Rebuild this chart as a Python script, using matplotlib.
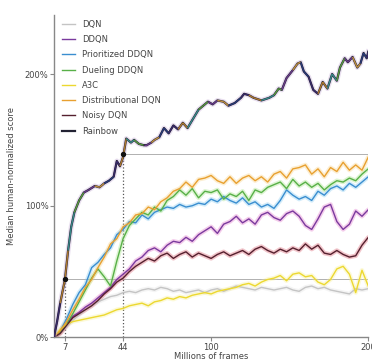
import matplotlib.pyplot as plt
from matplotlib.collections import LineCollection
import numpy as np

# frames in millions, baselines sampled every 4M
frames = list(range(0, 201, 4))

dqn = [0, 3, 8, 13, 17, 21, 24, 27, 29, 31, 32, 34, 35, 34, 36, 37, 36, 38, 37, 35,
       36, 34, 35, 36, 34, 36, 37, 35, 37, 39, 38, 37, 36, 38, 37, 36, 37, 38, 36, 35,
       38, 39, 37, 38, 36, 35, 34, 33, 37, 36, 37]
ddqn = [0, 4, 10, 16, 19, 23, 26, 30, 34, 38, 44, 48, 52, 58, 61, 66, 68, 65, 70, 73,
        72, 76, 73, 78, 81, 84, 79, 86, 88, 92, 87, 90, 86, 93, 95, 91, 89, 94, 96, 92,
        85, 82, 90, 99, 101, 88, 82, 86, 96, 92, 97]
prioritized = [0, 5, 14, 25, 34, 40, 53, 57, 63, 68, 78, 82, 88, 87, 93, 90, 95, 97, 99, 98,
               101, 99, 100, 102, 101, 105, 103, 107, 104, 102, 106, 101, 103, 99, 101, 98, 104, 112, 108, 105,
               107, 104, 111, 108, 113, 115, 112, 117, 114, 118, 122]
dueling = [0, 4, 10, 18, 27, 36, 45, 52, 46, 39, 58, 75, 85, 90, 95, 93, 99, 96, 104, 107,
           112, 108, 113, 106, 111, 110, 112, 105, 109, 107, 111, 104, 112, 110, 114, 116, 118, 113, 120, 115,
           118, 114, 117, 112, 116, 119, 118, 121, 119, 124, 128]
a3c = [0, 6, 10, 12, 13, 14, 15, 16, 17, 19, 21, 22, 24, 25, 26, 24, 27, 28, 30, 29,
       31, 30, 32, 33, 34, 33, 35, 36, 37, 38, 40, 41, 39, 42, 44, 45, 47, 43, 48, 49,
       46, 47, 42, 40, 44, 52, 54, 48, 34, 51, 39]
distributional = [0, 5, 12, 21, 29, 38, 44, 53, 61, 71, 75, 84, 87, 93, 94, 99, 97, 103, 106, 111,
                  113, 118, 114, 120, 121, 123, 119, 117, 122, 117, 121, 123, 119, 122, 118, 124, 126, 121, 128, 129,
                  131, 124, 128, 122, 129, 126, 133, 127, 131, 127, 137]
noisy = [0, 3, 9, 15, 18, 21, 24, 28, 33, 37, 42, 45, 50, 54, 57, 60, 58, 62, 64, 60,
         63, 65, 61, 64, 62, 60, 63, 65, 62, 64, 66, 63, 67, 69, 66, 64, 67, 65, 68, 66,
         71, 67, 70, 64, 63, 66, 63, 61, 62, 70, 76]

rainbow_frames = [0, 2, 4, 7, 9, 11, 13, 16, 19, 22, 26, 29, 32, 35, 38, 40, 42, 44, 46, 49,
                  51, 54, 57, 59, 62, 64, 67, 70, 73, 76, 79, 82, 85, 88, 92, 95, 98, 101, 104, 108,
                  111, 115, 119, 121, 124, 127, 132, 137, 140, 143, 145, 148, 152, 155, 157, 159, 162, 165, 168, 171,
                  174, 177, 180, 182, 185, 187, 190, 193, 195, 197, 199, 200]
rainbow = [0, 12, 26, 44, 66, 84, 95, 104, 110, 112, 115, 114, 117, 119, 122, 134, 130, 137, 151, 148,
           150, 147, 146, 146, 148, 150, 152, 159, 155, 161, 158, 163, 159, 165, 173, 176, 179, 177, 180, 179,
           176, 178, 182, 185, 184, 182, 180, 182, 184, 189, 188, 197, 203, 208, 209, 202, 198, 188, 185, 194,
           189, 200, 195, 205, 212, 209, 213, 205, 208, 216, 212, 217]

# markers: frames where Rainbow matches DQN / best baseline, and those scores
match_frames = [7, 44]
match_scores = [44, 139]

series = [
    ('DQN', dqn, '#c4c4c4', '#e0e0e0'),
    ('DDQN', ddqn, '#7a3a9e', '#e070c8'),
    ('Prioritized DDQN', prioritized, '#3a8ed0', '#80c8f0'),
    ('Dueling DDQN', dueling, '#58b048', '#a0e080'),
    ('A3C', a3c, '#ecd830', '#f8f090'),
    ('Distributional DQN', distributional, '#e8a030', '#f8d080'),
    ('Noisy DQN', noisy, '#55202e', '#d85868'),
]

fig = plt.figure(figsize=(3.72, 3.62), dpi=100)
ax = fig.add_axes([0.145, 0.068, 0.845, 0.891])

txt = '#444444'

# reference lines
ax.plot([match_frames[0], 200], [match_scores[0]] * 2, color='#b0b0b0', lw=0.7, zorder=1)
ax.plot([match_frames[1], 200], [match_scores[1]] * 2, color='#b0b0b0', lw=0.7, zorder=1)
ax.plot([match_frames[0]] * 2, [0, match_scores[0]], color='#555555', lw=0.9, ls=':', zorder=1)
ax.plot([match_frames[1]] * 2, [0, match_scores[1]], color='#555555', lw=0.9, ls=':', zorder=1)

for name, vals, col, halo in series:
    ax.plot(frames, vals, color=halo, lw=3.2, alpha=0.35, solid_capstyle='round', zorder=2)
    ax.plot(frames, vals, color=col, lw=1.0, label=name, zorder=3)

# rainbow: dark core with segments coloured from the component agents
rx = np.array(rainbow_frames, dtype=float)
ry = np.array(rainbow, dtype=float)
pts = np.column_stack([rx, ry]).reshape(-1, 1, 2)
segs = np.concatenate([pts[:-1], pts[1:]], axis=1)
seg_cols = ['#3a2a6a', '#b07a30', '#3a8a8a', '#5a9a40', '#6a3a8a', '#c09040', '#2a3a7a']
cols = [seg_cols[(i // 2) % len(seg_cols)] for i in range(len(segs))]
ax.plot(rx, ry, color='#c8b0d8', lw=3.6, alpha=0.4, zorder=4)
ax.plot(rx, ry, color='#222233', lw=1.6, zorder=5, label='Rainbow')
ax.add_collection(LineCollection(segs, colors=cols, linewidths=1.0, zorder=6))
ax.scatter(match_frames, match_scores, s=8, color='#111111', zorder=7)

ax.set_xlim(0, 200)
ax.set_ylim(0, 245)
ax.set_xticks([7, 44, 100, 200])
ax.set_xticklabels(['7', '44', '100', '200'])
ax.set_yticks([0, 100, 200])
ax.set_yticklabels(['0%', '100%', '200%'])
for s in ['top', 'right']:
    ax.spines[s].set_visible(False)
for s in ['left', 'bottom']:
    ax.spines[s].set_color('#888888')
    ax.spines[s].set_linewidth(1.0)
ax.tick_params(colors='#888888', labelcolor=txt, labelsize=6, length=3, width=0.8, pad=1)
ax.set_xlabel('Millions of frames', fontsize=6, color=txt, labelpad=0)
ax.set_ylabel('Median human-normalized score', fontsize=6, color=txt, labelpad=6)

ax.legend(loc='upper left', bbox_to_anchor=(0.01, 1.0), frameon=False, fontsize=6,
          labelcolor=txt, handlelength=1.6, labelspacing=0.75, borderaxespad=0.2)

fig.savefig('out.png', dpi=100)
